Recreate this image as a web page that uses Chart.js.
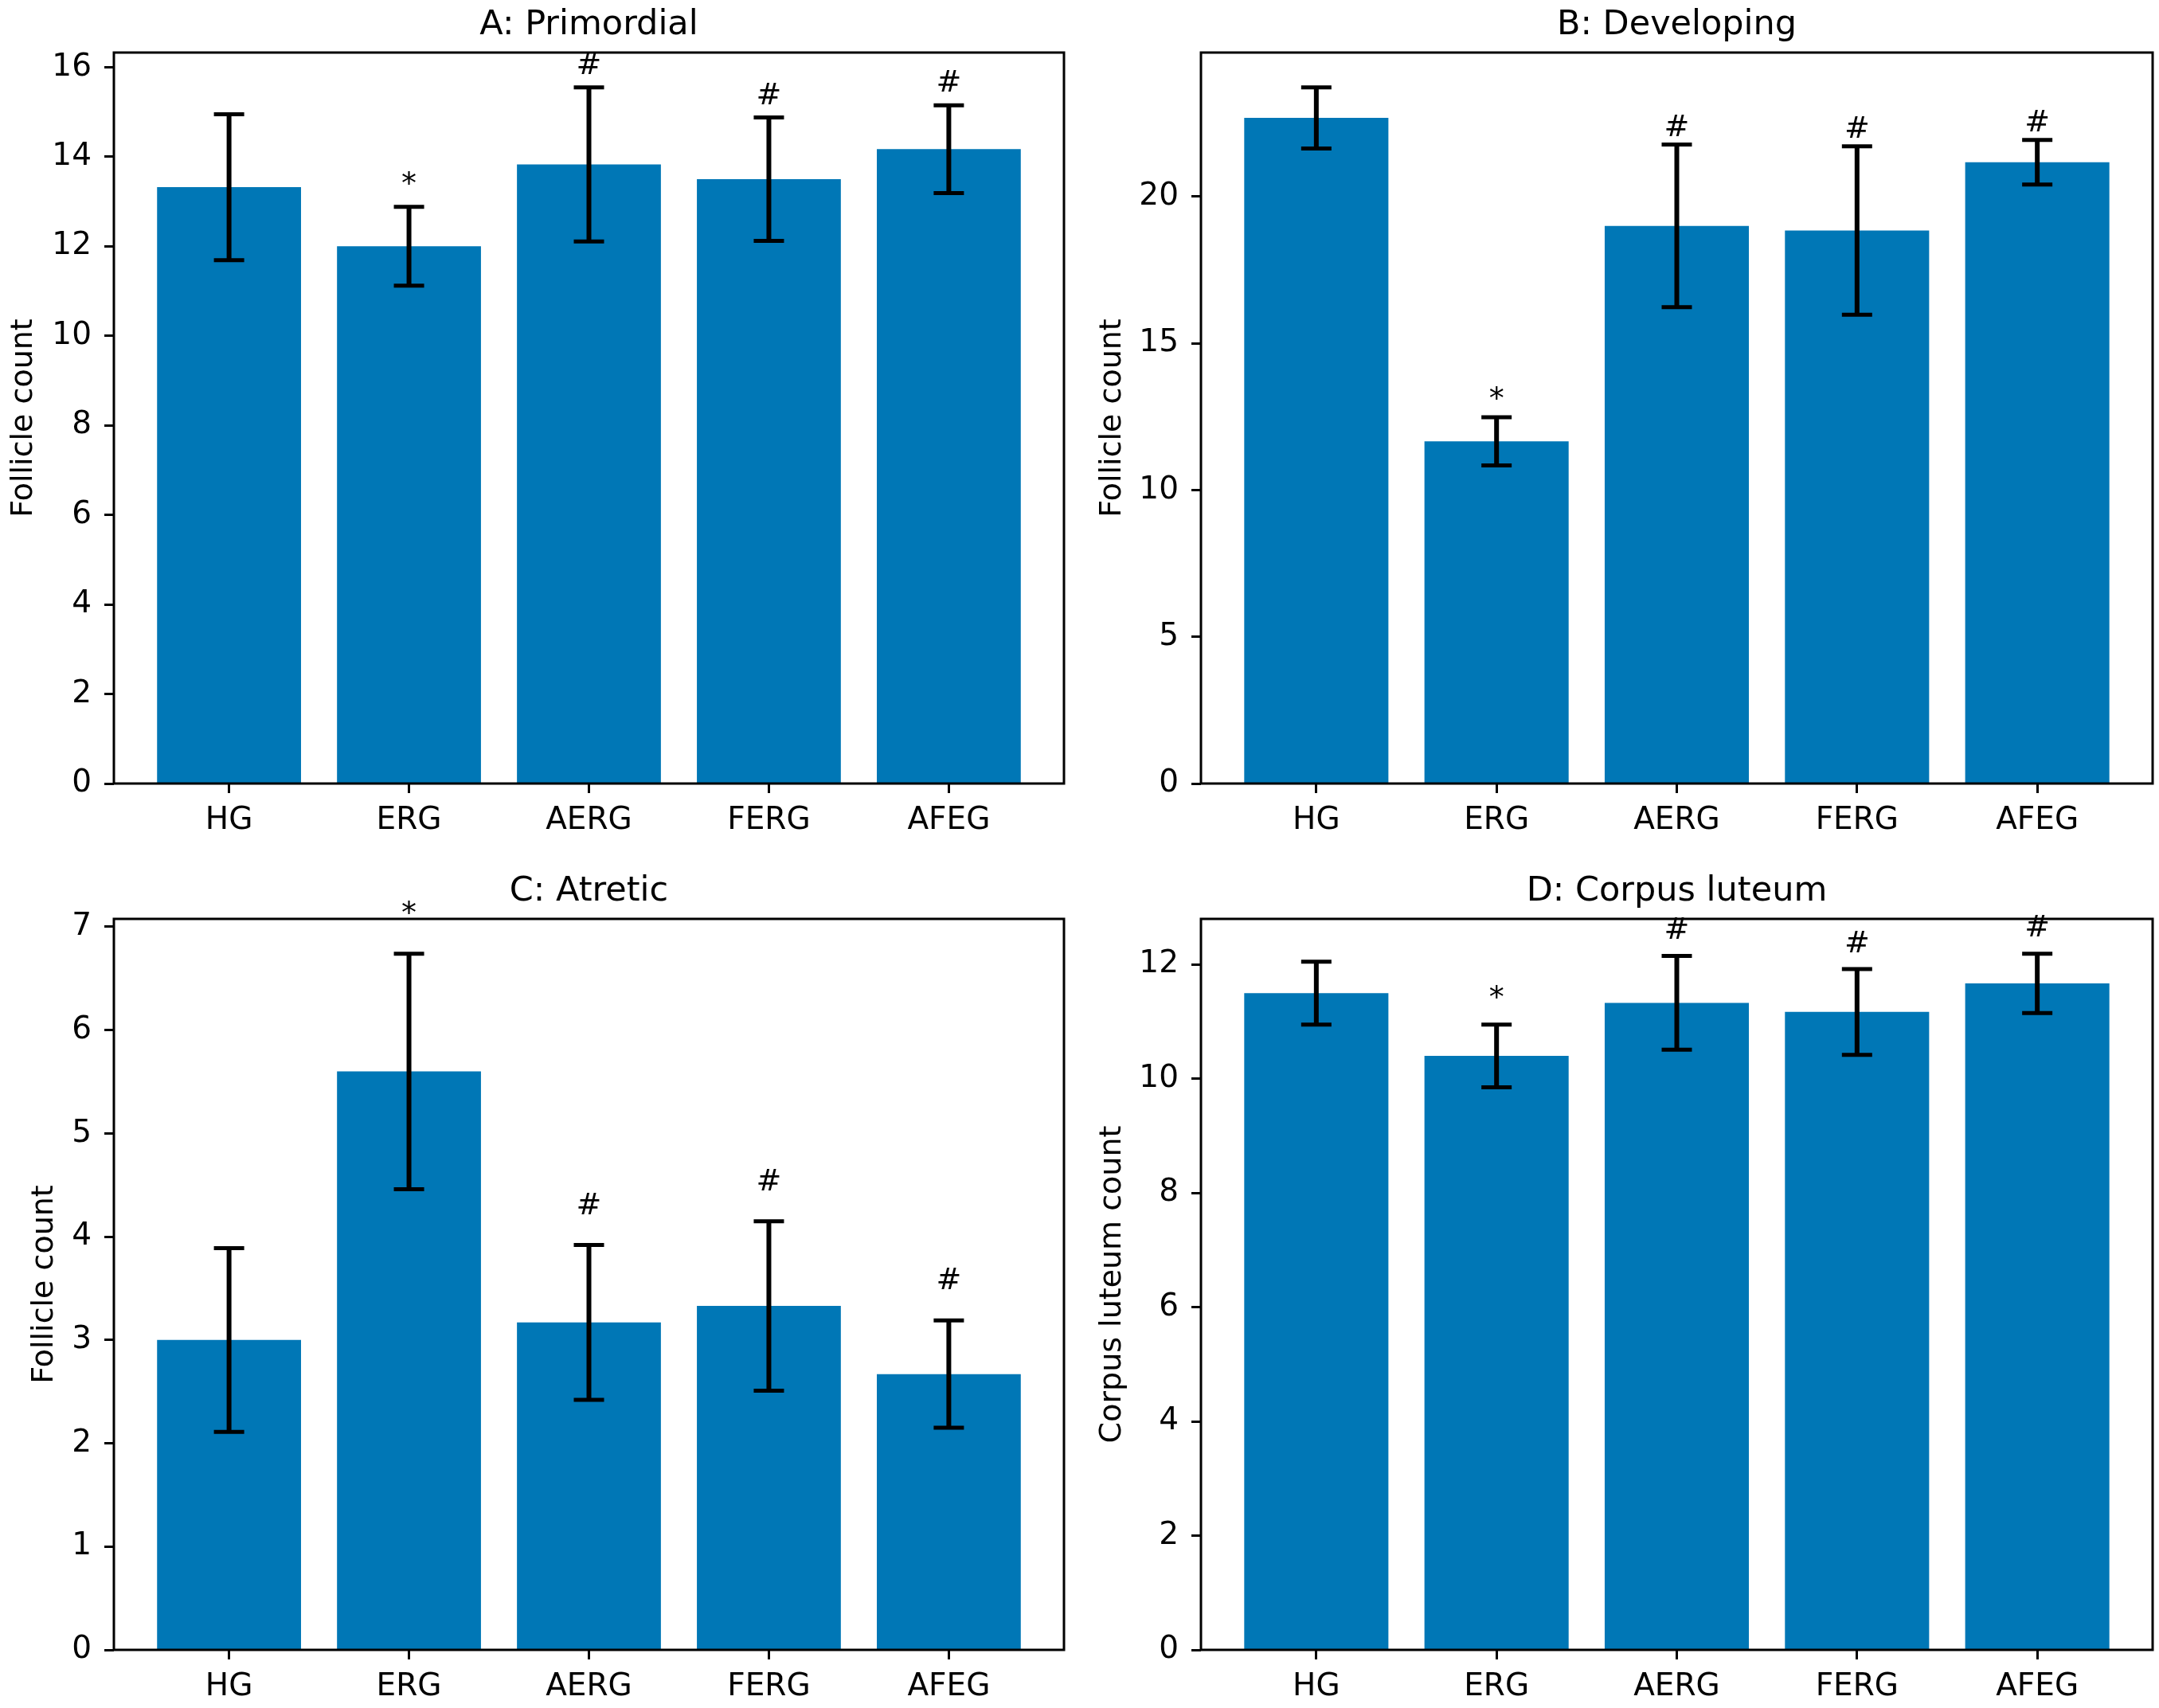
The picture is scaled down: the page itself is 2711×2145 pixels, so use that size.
<!DOCTYPE html>
<html>
<head>
<meta charset="utf-8">
<script src="https://cdn.jsdelivr.net/npm/chart.js@4.4.1/dist/chart.umd.min.js"></script>
<style>
  html, body { margin: 0; padding: 0; background: #fff; overflow: hidden; }
  canvas { position: absolute; }
</style>
</head>
<body>
<canvas id="panelA" width="1355" height="1075" style="left:0px;top:0px"></canvas>
<canvas id="panelB" width="1356" height="1075" style="left:1355px;top:0px"></canvas>
<canvas id="panelC" width="1355" height="1070" style="left:0px;top:1075px"></canvas>
<canvas id="panelD" width="1356" height="1070" style="left:1355px;top:1075px"></canvas>
<script>
// groups on the x axis
const groups = ["HG", "ERG", "AERG", "FERG", "AFEG"];

// A: Primordial
const primordialMean = [13.32, 12.0, 13.83, 13.5, 14.17];
const primordialErr = [1.63, 0.88, 1.72, 1.38, 0.98];
const primordialMarks = ["", "*", "#", "#", "#"];
const primordialTicks = [0, 2, 4, 6, 8, 10, 12, 14, 16];

// B: Developing
const developingMean = [22.68, 11.66, 19.0, 18.84, 21.17];
const developingErr = [1.04, 0.82, 2.77, 2.87, 0.76];
const developingMarks = ["", "*", "#", "#", "#"];
const developingTicks = [0, 5, 10, 15, 20];

// C: Atretic
const atreticMean = [3.0, 5.6, 3.17, 3.33, 2.67];
const atreticErr = [0.89, 1.14, 0.75, 0.82, 0.52];
const atreticMarks = ["", "*", "#", "#", "#"];
const atreticTicks = [0, 1, 2, 3, 4, 5, 6, 7];

// D: Corpus luteum
const luteumMean = [11.5, 10.4, 11.33, 11.17, 11.67];
const luteumErr = [0.55, 0.55, 0.82, 0.75, 0.52];
const luteumMarks = ["", "*", "#", "#", "#"];
const luteumTicks = [0, 2, 4, 6, 8, 10, 12];

// marks sit this far (data units) above the error bar cap
const MARK_OFFSET = 0.3;

const BAR_COLOR = "#0077b6";
const FONT = "'DejaVu Sans', 'Liberation Sans', sans-serif";

// error bars, significance marks, axes frame and the panel title
const extrasPlugin = {
  id: "extras",
  afterDatasetsDraw(chart, args, opts) {
    const { ctx, chartArea } = chart;
    const x = chart.scales.x;
    const y = chart.scales.y;
    ctx.save();
    ctx.strokeStyle = "#000";
    ctx.fillStyle = "#000";
    opts.mean.forEach((m, i) => {
      const px = x.getPixelForValue(i);
      const top = y.getPixelForValue(m + opts.err[i]);
      const bot = y.getPixelForValue(m - opts.err[i]);
      ctx.lineWidth = 6;
      ctx.beginPath();
      ctx.moveTo(px, top);
      ctx.lineTo(px, bot);
      ctx.stroke();
      ctx.lineWidth = 5;
      ctx.beginPath();
      ctx.moveTo(px - 19, top);
      ctx.lineTo(px + 19, top);
      ctx.moveTo(px - 19, bot);
      ctx.lineTo(px + 19, bot);
      ctx.stroke();
      if (opts.marks[i]) {
        ctx.font = "38px " + FONT;
        ctx.textAlign = "center";
        ctx.textBaseline = "alphabetic";
        ctx.fillText(opts.marks[i], px, y.getPixelForValue(m + opts.err[i] + MARK_OFFSET));
      }
    });
    ctx.lineWidth = 3;
    ctx.strokeRect(chartArea.left, chartArea.top,
      chartArea.right - chartArea.left, chartArea.bottom - chartArea.top);
    // title centred over the axes
    ctx.font = "43px " + FONT;
    ctx.textAlign = "center";
    ctx.textBaseline = "alphabetic";
    ctx.fillText(opts.title, (chartArea.left + chartArea.right) / 2, chartArea.top - 23);
    ctx.restore();
  }
};

function makePanel(id, title, yLabel, mean, err, marks, yTicks, lay) {
  const n = mean.length;
  const yMax = Math.max(...mean.map((m, i) => m + err[i])) * 1.05;
  new Chart(document.getElementById(id), {
    type: "bar",
    data: {
      datasets: [{
        data: mean.map((m, i) => ({ x: i, y: m })),
        backgroundColor: BAR_COLOR,
        borderWidth: 0,
        barPercentage: 0.8,
        categoryPercentage: 1.0
      }]
    },
    plugins: [extrasPlugin],
    options: {
      responsive: false,
      animation: false,
      devicePixelRatio: 1,
      layout: { padding: { left: 0, right: lay.rightPad, top: lay.top, bottom: 0 } },
      plugins: {
        legend: { display: false },
        tooltip: { enabled: false },
        title: { display: false },
        extras: { mean: mean, err: err, marks: marks, title: title }
      },
      scales: {
        x: {
          type: "linear",
          min: -0.4 - 0.24,
          max: n - 1 + 0.4 + 0.24,
          offset: false,
          afterBuildTicks: (s) => { s.ticks = groups.map((g, i) => ({ value: i })); },
          afterFit: (s) => { s.height = lay.xHeight; },
          grid: { display: true, offset: false, drawOnChartArea: false, drawTicks: true,
                  tickLength: 12, tickWidth: 3, tickColor: "#000" },
          border: { display: false },
          ticks: {
            autoSkip: false, maxRotation: 0, padding: 11, color: "#000",
            font: { family: FONT, size: 39 },
            callback: (v) => groups[v]
          }
        },
        y: {
          min: 0,
          max: yMax,
          afterBuildTicks: (s) => { s.ticks = yTicks.map(v => ({ value: v })); },
          afterFit: (s) => { s.width = lay.yWidth; },
          grid: { display: true, drawOnChartArea: false, drawTicks: true,
                  tickLength: 12, tickWidth: 3, tickColor: "#000" },
          border: { display: false },
          ticks: {
            padding: 16, color: "#000",
            font: { family: FONT, size: 39 },
            callback: (v) => String(v)
          },
          title: {
            display: true,
            text: yLabel,
            color: "#000",
            font: { family: FONT, size: 38 },
            padding: { top: lay.yTitlePad, bottom: 0 }
          }
        }
      }
    }
  });
}

makePanel("panelA", "A: Primordial", "Follicle count",
  primordialMean, primordialErr, primordialMarks, primordialTicks,
  { yWidth: 143, rightPad: 19, top: 66, xHeight: 91, yTitlePad: 7 });
makePanel("panelB", "B: Developing", "Follicle count",
  developingMean, developingErr, developingMarks, developingTicks,
  { yWidth: 153, rightPad: 8, top: 66, xHeight: 91, yTitlePad: 19 });
makePanel("panelC", "C: Atretic", "Follicle count",
  atreticMean, atreticErr, atreticMarks, atreticTicks,
  { yWidth: 143, rightPad: 19, top: 79, xHeight: 73, yTitlePad: 33 });
makePanel("panelD", "D: Corpus luteum", "Corpus luteum count",
  luteumMean, luteumErr, luteumMarks, luteumTicks,
  { yWidth: 153, rightPad: 8, top: 79, xHeight: 73, yTitlePad: 19 });
</script>
</body>
</html>
